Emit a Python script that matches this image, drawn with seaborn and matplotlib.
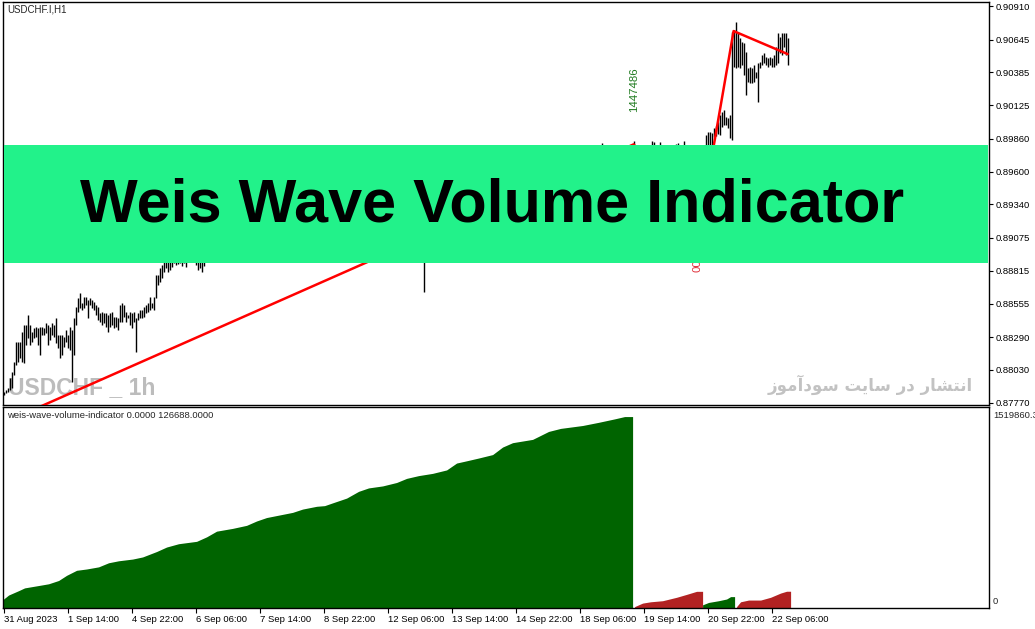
import numpy as np
import matplotlib
matplotlib.use('Agg')
import matplotlib.pyplot as plt
from matplotlib.patches import Rectangle
import seaborn as sns

# ---------------- data ----------------
symbol_title = 'USDCHF.I,H1'
indicator_title = 'weis-wave-volume-indicator 0.0000 126688.0000'
banner_text = 'Weis Wave Volume Indicator'
watermark_left = 'USDCHF _ 1h'
watermark_right = 'انتشار در سایت سودآموز'

price_ticks = [0.90910, 0.90645, 0.90385, 0.90125, 0.89860, 0.89600, 0.89340,
               0.89075, 0.88815, 0.88555, 0.88290, 0.88030, 0.87770]
date_tick_idx = [0, 32, 64, 96, 128, 160, 192, 224, 256, 288, 320, 352, 384]
date_tick_labels = ['31 Aug 2023', '1 Sep 14:00', '4 Sep 22:00', '6 Sep 06:00',
                    '7 Sep 14:00', '8 Sep 22:00', '12 Sep 06:00', '13 Sep 14:00',
                    '14 Sep 22:00', '18 Sep 06:00', '19 Sep 14:00', '20 Sep 22:00',
                    '22 Sep 06:00']

# H1 bars (only the ones not hidden by the banner)
bar_idx = (list(range(0, 101)) + [210, 299, 315, 324, 325, 328, 336, 337, 340]
           + list(range(351, 393)))
bar_high = [
    0.87855, 0.87871, 0.87887, 0.87966, 0.88013, 0.88092, 0.88251, 0.88251, 0.88251, 0.88330,
    0.88385, 0.88385, 0.88465, 0.88385, 0.88330, 0.88362, 0.88369, 0.88362, 0.88369, 0.88369,
    0.88362, 0.88401, 0.88385, 0.88369, 0.88401, 0.88385, 0.88441, 0.88306, 0.88306, 0.88306,
    0.88291, 0.88346, 0.88306, 0.88369, 0.88346, 0.88441, 0.88528, 0.88599, 0.88639, 0.88560,
    0.88607, 0.88607, 0.88583, 0.88599, 0.88583, 0.88567, 0.88544, 0.88528, 0.88480, 0.88488,
    0.88480, 0.88480, 0.88465, 0.88480, 0.88488, 0.88449, 0.88449, 0.88441, 0.88544, 0.88560,
    0.88544, 0.88488, 0.88465, 0.88488, 0.88480, 0.88488, 0.88441, 0.88480, 0.88504, 0.88504,
    0.88528, 0.88544, 0.88560, 0.88607, 0.88560, 0.88607, 0.88781, 0.88781, 0.88837, 0.88860,
    0.88940, 0.88980, 0.88980, 0.88980, 0.88980, 0.89000, 0.89000, 0.89000, 0.89000, 0.89000,
    0.89000, 0.89000, 0.89000, 0.89000, 0.89000, 0.89000, 0.89000, 0.89000, 0.89000, 0.89000,
    0.89000,
    0.89000, 0.89826, 0.89842, 0.89842, 0.89831, 0.89835, 0.89818, 0.89826, 0.89842,
    0.89889, 0.89915, 0.89915, 0.89905, 0.89944, 0.89960, 0.89990, 0.90047, 0.90073, 0.90087,
    0.90034, 0.90021, 0.90047, 0.90707, 0.90720, 0.90786, 0.90694, 0.90654, 0.90627, 0.90615,
    0.90548, 0.90417, 0.90430, 0.90417, 0.90443, 0.90390, 0.90457, 0.90469, 0.90522, 0.90536,
    0.90509, 0.90496, 0.90509, 0.90496, 0.90522, 0.90588, 0.90694, 0.90667, 0.90694, 0.90694,
    0.90694, 0.90654]
bar_low = [
    0.87831, 0.87847, 0.87855, 0.87871, 0.87887, 0.87990, 0.88069, 0.88092, 0.88124, 0.88092,
    0.88084, 0.88227, 0.88283, 0.88227, 0.88251, 0.88283, 0.88291, 0.88227, 0.88148, 0.88306,
    0.88306, 0.88322, 0.88227, 0.88267, 0.88306, 0.88291, 0.88243, 0.88203, 0.88124, 0.88148,
    0.88211, 0.88251, 0.88203, 0.88188, 0.87934, 0.88148, 0.88385, 0.88488, 0.88520, 0.88504,
    0.88520, 0.88544, 0.88441, 0.88544, 0.88520, 0.88504, 0.88465, 0.88425, 0.88409, 0.88385,
    0.88401, 0.88369, 0.88330, 0.88369, 0.88385, 0.88362, 0.88369, 0.88346, 0.88409, 0.88409,
    0.88449, 0.88409, 0.88441, 0.88385, 0.88362, 0.88409, 0.88172, 0.88425, 0.88441, 0.88441,
    0.88449, 0.88480, 0.88488, 0.88504, 0.88520, 0.88504, 0.88599, 0.88702, 0.88726, 0.88758,
    0.88805, 0.88837, 0.88805, 0.88821, 0.88845, 0.88876, 0.88860, 0.88868, 0.88876, 0.88852,
    0.88876, 0.88845, 0.88884, 0.88884, 0.88884, 0.88884, 0.88860, 0.88821, 0.88837, 0.88805,
    0.88852,
    0.88649, 0.89700, 0.89650, 0.89700, 0.89720, 0.89700, 0.89720, 0.89700, 0.89680,
    0.89780, 0.89780, 0.89790, 0.89800, 0.89870, 0.89880, 0.89900, 0.89889, 0.89955, 0.89968,
    0.89968, 0.89942, 0.89865, 0.89849, 0.90430, 0.90417, 0.90430, 0.90417, 0.90443, 0.90364,
    0.90206, 0.90311, 0.90298, 0.90298, 0.90311, 0.90338, 0.90148, 0.90417, 0.90443, 0.90457,
    0.90443, 0.90430, 0.90443, 0.90430, 0.90430, 0.90443, 0.90457, 0.90536, 0.90522, 0.90588,
    0.90522, 0.90443]

# zigzag swing points (bar index, price)
zz_idx = [0, 315, 349, 365, 392]
zz_price = [0.87611, 0.89815, 0.89250, 0.90712, 0.90530]

# wave volume labels
up_label_idx, up_label_price, up_label = 315, 0.90071, '1447486'
dn_label_idx, dn_label_price, dn_label = 347, 0.88805, '00'

# Weis waves: cumulative volume per wave
green1_idx = [0, 3, 8, 11, 18, 23, 28, 32, 37, 42, 48, 53, 58, 65, 70, 77, 82, 88, 97, 102,
              107, 115, 122, 127, 132, 138, 145, 150, 157, 161, 165, 172, 178, 183, 190, 197,
              202, 208, 215, 222, 227, 232, 238, 245, 250, 255, 265, 273, 279, 290, 298, 306, 311]
green1_vol = [61700, 98000, 131000, 152000, 170000, 183000, 208000, 247000, 285000, 295000,
              311000, 342000, 357000, 370000, 386000, 427000, 461000, 486000, 504000, 538000,
              581000, 602000, 625000, 658000, 684000, 702000, 723000, 748000, 769000, 774000,
              795000, 831000, 882000, 908000, 923000, 949000, 980000, 1001000, 1018000, 1044000,
              1096000, 1113000, 1134000, 1160000, 1217000, 1250000, 1275000, 1335000, 1358000,
              1380000, 1404000, 1430000, 1447486]
red1_idx = [316, 320, 324, 330, 337, 342, 347]
red1_vol = [10600, 37000, 47000, 55000, 81000, 103000, 126000]
green2_idx = [350, 353, 358, 362, 364]
green2_vol = [24000, 42000, 55000, 68000, 86000]
red2_idx = [367, 369, 373, 379, 384, 389, 392]
red2_vol = [10600, 47000, 60000, 60000, 81000, 113000, 126688]
vol_max = 1519860.3

# ---------------- styling ----------------
sns.set_theme(style='white')
plt.rcParams['font.family'] = ['Liberation Sans', 'DejaVu Sans']
plt.rcParams['axes.edgecolor'] = 'black'
plt.rcParams['axes.linewidth'] = 1.0

UP, DOWN = '#006400', '#B22222'
BANNER = '#22F28A'

W, H = 1035, 629
def fx(px):
    return px / W
def fy(py):
    return 1 - py / H

fig = plt.figure(figsize=(W / 100, H / 100), dpi=100)
fig.patch.set_facecolor('white')
ax1 = fig.add_axes([fx(3), fy(405), fx(989) - fx(3), fy(2) - fy(405)])
ax2 = fig.add_axes([fx(3), fy(608), fx(989) - fx(3), fy(407) - fy(608)])

xmin, xmax = -0.3, 492.7

# ---- price panel ----
ax1.vlines(bar_idx, bar_low, bar_high, colors='black', lw=1.0, zorder=2)
sns.lineplot(x=zz_idx, y=zz_price, ax=ax1, color='red', lw=1.8, zorder=3, sort=False)
ax1.text(up_label_idx, up_label_price, up_label, rotation=90, ha='center', va='bottom',
         color='#1F7A1F', fontsize=8.2, zorder=3)
ax1.text(dn_label_idx, dn_label_price, dn_label, rotation=90, ha='center', va='bottom',
         color='#E0303A', fontsize=8.2, zorder=3)
ax1.set_xlim(xmin, xmax)
ax1.set_ylim(0.87752, 0.90942)
ax1.set_xticks([])
ax1.yaxis.tick_right()
ax1.set_yticks(price_ticks)
ax1.set_yticklabels([f'{v:.5f}' for v in price_ticks])
ax1.tick_params(axis='y', direction='out', length=3, width=0.8, pad=2,
                labelsize=6.8, colors='black', right=True, left=False)
ax1.set_xlabel('')
ax1.set_ylabel('')

# watermarks (drawn under the bars)
ax1.text(fx(8), fy(394), watermark_left, transform=fig.transFigure, ha='left',
         va='baseline', fontsize=16.5, fontweight='bold', family='Liberation Sans',
         color='#BCBCBC', zorder=1.5)

# simple Arabic-script shaping for the Persian watermark
forms = {
    'ا': ('\uFE8D', '\uFE8E', None, None), 'آ': ('\uFE81', '\uFE82', None, None),
    'د': ('\uFEA9', '\uFEAA', None, None), 'ر': ('\uFEAD', '\uFEAE', None, None),
    'ز': ('\uFEAF', '\uFEB0', None, None), 'و': ('\uFEED', '\uFEEE', None, None),
    'ن': ('\uFEE5', '\uFEE6', '\uFEE7', '\uFEE8'), 'ت': ('\uFE95', '\uFE96', '\uFE97', '\uFE98'),
    'ش': ('\uFEB5', '\uFEB6', '\uFEB7', '\uFEB8'), 'س': ('\uFEB1', '\uFEB2', '\uFEB3', '\uFEB4'),
    'ی': ('\uFBFC', '\uFBFD', '\uFEF3', '\uFEF4'), 'م': ('\uFEE1', '\uFEE2', '\uFEE3', '\uFEE4'),
}
def shape(text):
    out = []
    for k, c in enumerate(text):
        if c not in forms:
            out.append(c)
            continue
        prev = text[k - 1] if k > 0 else ' '
        nxt = text[k + 1] if k + 1 < len(text) else ' '
        jp = prev in forms and forms[prev][2] is not None
        jn = nxt in forms and forms[c][2] is not None
        iso, fin, ini, med = forms[c]
        out.append(med if jp and jn else ini if jn else fin if jp else iso)
    return ''.join(out)[::-1]

ax1.text(fx(973), fy(391), shape(watermark_right), transform=fig.transFigure, ha='right',
         va='baseline', fontsize=12, fontweight='bold', family=['DejaVu Sans'],
         color='#C2C2C2', zorder=1.5)

# ---- volume panel ----
for idx, vol, end, col in [(green1_idx, green1_vol, 315, UP), (red1_idx, red1_vol, 350, DOWN),
                           (green2_idx, green2_vol, 366, UP), (red2_idx, red2_vol, 394, DOWN)]:
    xs = np.r_[idx, end] - 0.5
    ys = np.r_[vol, vol[-1]]
    ax2.fill_between(xs, 0, ys, color=col, lw=0)
ax2.set_xlim(xmin, xmax)
ax2.set_ylim(0, vol_max)
ax2.set_yticks([])
ax2.set_xticks(date_tick_idx)
ax2.set_xticklabels(date_tick_labels, ha='left')
ax2.tick_params(axis='x', direction='out', length=3.5, width=0.8, pad=1.5,
                labelsize=6.8, colors='black', bottom=True)
fig.text(fx(993), fy(415), f'{vol_max:.1f}', ha='left', va='center', fontsize=6.8)
fig.text(fx(993), fy(601), '0', ha='left', va='center', fontsize=6.8)

for ax in (ax1, ax2):
    for s in ax.spines.values():
        s.set_visible(True)
        s.set_color('black')
        s.set_linewidth(1.0)

# ---- chart captions and banner ----
fig.text(fx(7), fy(10), symbol_title, ha='left', va='center', fontsize=7)
fig.text(fx(7), fy(416), indicator_title, ha='left', va='center', fontsize=6.8)
fig.add_artist(Rectangle((fx(4), fy(263)), fx(988) - fx(4), fy(145) - fy(263),
                         transform=fig.transFigure, facecolor=BANNER, edgecolor='none',
                         zorder=4))
fig.text(fx(492), fy(221), banner_text, ha='center', va='baseline', fontsize=44,
         fontweight='bold', family='Liberation Sans', color='black', zorder=5)

fig.savefig('out.png', dpi=100)
